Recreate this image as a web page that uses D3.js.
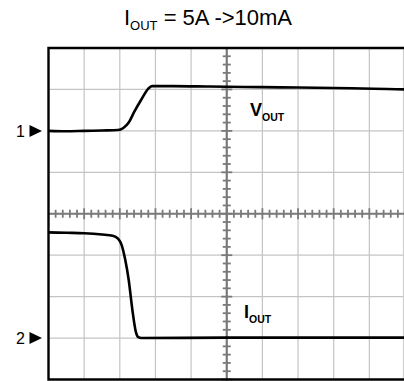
<!DOCTYPE html>
<html>
<head>
<meta charset="utf-8">
<script src="https://cdn.jsdelivr.net/npm/d3@7"></script>
<style>
  body { margin: 0; background: #fff; }
  svg { display: block; font-family: "Liberation Sans", Arial, sans-serif; }
</style>
</head>
<body>
<div id="chart"></div>
<script>
// scope trace data, x in divisions (0..10), y in divisions (-4..4)
var voutX = [0, 0.5, 1.0, 1.5, 1.95, 2.1, 2.25, 2.4, 2.6, 2.8, 2.9, 3.5, 4.5, 5.5, 6.5, 7.5, 8.5, 9.5, 10];
var voutY = [2.0, 1.99, 2.0, 2.01, 2.02, 2.07, 2.2, 2.45, 2.75, 3.02, 3.08, 3.08, 3.07, 3.06, 3.05, 3.04, 3.03, 3.01, 3.0];

var ioutX = [0, 0.5, 1.0, 1.5, 1.8, 1.95, 2.05, 2.15, 2.25, 2.35, 2.45, 2.52, 2.6, 5, 7.5, 10];
var ioutY = [-0.45, -0.46, -0.47, -0.5, -0.53, -0.6, -0.75, -1.1, -1.6, -2.3, -2.85, -2.98, -3.0, -2.99, -2.99, -2.99];

var markers = [{label: "1", level: 2.0}, {label: "2", level: -3.0}];

var width = 404, height = 381;

var svg = d3.select("#chart")
  .append("svg")
  .attr("width", width)
  .attr("height", height);

var x = d3.scaleLinear().domain([0, 10]).range([48.5, 405]);
var y = d3.scaleLinear().domain([-4, 4]).range([379.5, 48]);

// grid
svg.append("g")
  .selectAll("line")
  .data(d3.range(1, 10))
  .enter().append("line")
    .attr("x1", function(d) { return x(d); })
    .attr("x2", function(d) { return x(d); })
    .attr("y1", y(4)).attr("y2", y(-4))
    .attr("stroke", "#c4c4c4").attr("stroke-width", 1.2);

svg.append("g")
  .selectAll("line")
  .data(d3.range(-3, 4))
  .enter().append("line")
    .attr("x1", x(0)).attr("x2", x(10))
    .attr("y1", function(d) { return y(d); })
    .attr("y2", function(d) { return y(d); })
    .attr("stroke", "#c4c4c4").attr("stroke-width", 1.2);

// right edge is light
svg.append("line")
  .attr("x1", 403.5).attr("x2", 403.5)
  .attr("y1", y(4)).attr("y2", y(-4))
  .attr("stroke", "#d0d0d0").attr("stroke-width", 1.2);

// center crosshair with minor ticks
var axisColor = "#7a7a7a";
svg.append("line")
  .attr("x1", x(0)).attr("x2", x(10))
  .attr("y1", y(0)).attr("y2", y(0))
  .attr("stroke", axisColor).attr("stroke-width", 2.2);
svg.append("line")
  .attr("x1", x(5)).attr("x2", x(5))
  .attr("y1", y(4)).attr("y2", y(-4))
  .attr("stroke", axisColor).attr("stroke-width", 2.2);

var xTicks = d3.range(1, 50).map(function(i) { return i / 5; });
svg.append("g")
  .selectAll("line")
  .data(xTicks)
  .enter().append("line")
    .attr("x1", function(d) { return x(d); })
    .attr("x2", function(d) { return x(d); })
    .attr("y1", function(d, i) { return y(0) - ((i + 1) % 5 === 0 ? 5.5 : 4); })
    .attr("y2", function(d, i) { return y(0) + ((i + 1) % 5 === 0 ? 5.5 : 4); })
    .attr("stroke", axisColor).attr("stroke-width", 1.8);

var yTicks = d3.range(-20, 21).map(function(i) { return i / 5; });
svg.append("g")
  .selectAll("line")
  .data(yTicks)
  .enter().append("line")
    .attr("y1", function(d) { return y(d); })
    .attr("y2", function(d) { return y(d); })
    .attr("x1", function(d, i) { return x(5) - (i % 5 === 0 ? 5.5 : 4); })
    .attr("x2", function(d, i) { return x(5) + (i % 5 === 0 ? 5.5 : 4); })
    .attr("stroke", axisColor).attr("stroke-width", 1.8);

// black borders: left, top, bottom
svg.append("path")
  .attr("d", "M" + x(10) + "," + y(4) + "H" + x(0) + "V" + y(-4) + "H" + x(10))
  .attr("fill", "none")
  .attr("stroke", "#000")
  .attr("stroke-width", 2.4);

// traces
var line = d3.line()
  .x(function(d) { return x(d[0]); })
  .y(function(d) { return y(d[1]); })
  .curve(d3.curveMonotoneX);

var traces = [d3.zip(voutX, voutY), d3.zip(ioutX, ioutY)];
svg.selectAll("path.trace")
  .data(traces)
  .enter().append("path")
    .attr("class", "trace")
    .attr("d", line)
    .attr("fill", "none")
    .attr("stroke", "#000")
    .attr("stroke-width", 2.6)
    .attr("stroke-linejoin", "round");

// channel markers
var mk = svg.selectAll("g.marker")
  .data(markers)
  .enter().append("g")
    .attr("class", "marker")
    .attr("transform", function(d) { return "translate(0," + y(d.level) + ")"; });
mk.append("text")
  .attr("x", 20.5).attr("y", 6)
  .attr("text-anchor", "middle")
  .style("font-size", "16px")
  .text(function(d) { return d.label; });
mk.append("path")
  .attr("d", "M29.5,-6L42,0L29.5,6Z")
  .attr("fill", "#000");

// title
var title = svg.append("text")
  .attr("x", 208).attr("y", 25)
  .attr("text-anchor", "middle")
  .style("font-size", "22px");
title.append("tspan").text("I");
title.append("tspan").attr("dy", 5).style("font-size", "13px").text("OUT");
title.append("tspan").attr("dy", -5).text(" = 5A ->10mA");

// trace labels
function subLabel(px, py, main, sub) {
  var t = svg.append("text")
    .attr("x", px).attr("y", py)
    .style("font-weight", "bold")
    .style("font-size", "18px");
  t.append("tspan").text(main);
  t.append("tspan").attr("dy", 5).style("font-size", "10.5px").text(sub);
}
subLabel(250, 116, "V", "OUT");
subLabel(244, 318, "I", "OUT");
</script>
</body>
</html>
